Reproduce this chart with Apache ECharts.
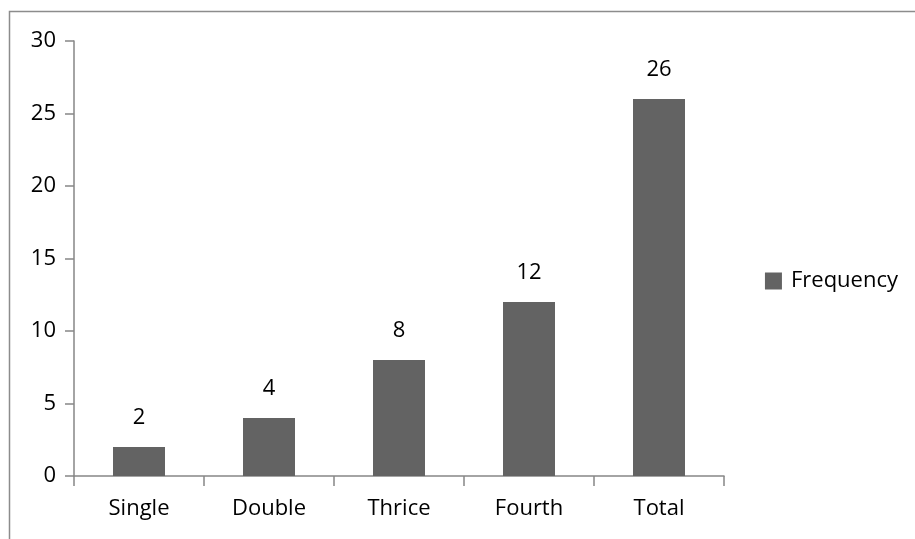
<!DOCTYPE html>
<html>
<head>
<meta charset="utf-8">
<script src="https://cdn.jsdelivr.net/npm/echarts@6/dist/echarts.min.js"></script>
<style>
  html, body { margin: 0; padding: 0; background: #ffffff; }
  #chart { width: 915px; height: 539px; }
</style>
</head>
<body>
<div id="chart"></div>
<script>
// Frequency counts per category
const categories = ['Single', 'Double', 'Thrice', 'Fourth', 'Total'];
const frequency = [2, 4, 8, 12, 26];
const yTicks = { min: 0, max: 30, interval: 5 };

const FONT = '"Open Sans", "Liberation Sans", sans-serif';
const axisGray = '#868686';

const chart = echarts.init(document.getElementById('chart'), null, { renderer: 'canvas' });
chart.setOption({
  backgroundColor: '#ffffff',
  animation: false,
  graphic: [{
    type: 'polyline',
    shape: { points: [[9.5, 540], [9.5, 11.5], [916, 11.5]] },
    style: { stroke: '#8c8c8c', lineWidth: 1.5, fill: null },
    silent: true
  }],
  legend: {
    right: 12,
    top: 265,
    orient: 'vertical',
    itemWidth: 17,
    itemHeight: 17,
    icon: 'rect',
    textStyle: { fontFamily: FONT, fontSize: 22, color: '#000000', padding: [0, 0, 0, 4] },
    data: ['Frequency']
  },
  grid: { left: 74, top: 41, right: 191, bottom: 63, containLabel: false },
  xAxis: {
    type: 'category',
    data: categories,
    axisLine: { show: true, lineStyle: { color: axisGray, width: 1.5 } },
    axisTick: { show: true, length: 10, alignWithLabel: false, lineStyle: { color: axisGray, width: 1.5 } },
    axisLabel: { margin: 22, fontFamily: FONT, fontSize: 22, color: '#000000' },
    splitLine: { show: false }
  },
  yAxis: {
    type: 'value',
    min: yTicks.min,
    max: yTicks.max,
    interval: yTicks.interval,
    axisLine: { show: true, lineStyle: { color: axisGray, width: 1.5 } },
    axisTick: { show: true, length: 9, lineStyle: { color: axisGray, width: 1.5 } },
    axisLabel: { margin: 18, fontFamily: FONT, fontSize: 22, color: '#000000' },
    splitLine: { show: false }
  },
  series: [{
    name: 'Frequency',
    type: 'bar',
    data: frequency,
    barWidth: 52,
    itemStyle: { color: '#636363' },
    label: {
      show: true,
      position: 'top',
      distance: 18,
      fontFamily: FONT,
      fontSize: 22,
      color: '#000000'
    }
  }]
});
</script>
</body>
</html>
